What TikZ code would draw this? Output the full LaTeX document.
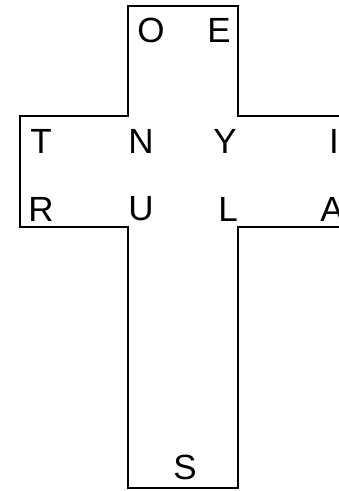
\documentclass[tikz,border=0pt]{standalone}
\usepackage{fontspec}
\setmainfont{Liberation Sans}
\usetikzlibrary{positioning}

\begin{document}
\begin{tikzpicture}[x=1pt,y=-1pt,
    letter/.style={inner sep=0pt,font=\fontsize{35}{40}\selectfont},
    outline/.style={line width=1.9pt,line join=miter}]
    \useasboundingbox (0,0) rectangle (339,491);
    \clip (0,0) rectangle (339,491);
    % the cross
    \draw[outline] (345,116) -- (238,116) -- (238,6) -- (128,6) -- (128,116)
    -- (20,116) -- (20,227) -- (128,227) -- (128,488) -- (238,488)
    -- (238,227) -- (345,227);
    % letters
    \node[letter] (o) at (151,30) {O};
    \node[letter] (e) at (219,30) {E};
    \node[letter] (t) at (41,141) {T};
    \node[letter] (n) at (141,141) {N};
    \node[letter] (y) at (225,141) {Y};
    \node[letter] (i) at (334,141) {I};
    \node[letter] (r) at (41,209) {R};
    \node[letter] (u) at (141,209) {U};
    \node[letter] (l) at (228,209) {L};
    \node[letter] (a) at (332,209) {A};
    \node[letter] (s) at (185,467) {S};
  \end{tikzpicture}
\end{document}
